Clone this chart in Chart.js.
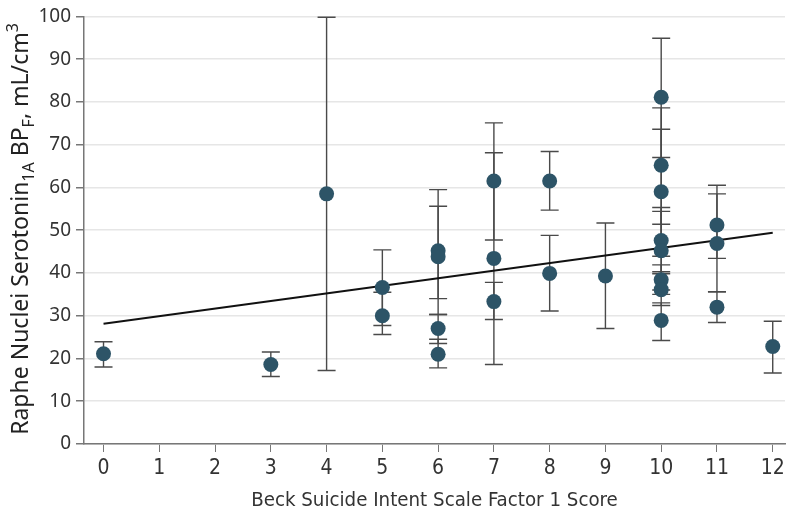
<!DOCTYPE html>
<html>
<head>
<meta charset="utf-8">
<script src="https://cdn.jsdelivr.net/npm/chart.js@4/dist/chart.umd.min.js"></script>
<style>
  html, body { margin: 0; padding: 0; background: #ffffff; }
  #wrap { width: 800px; height: 517px; position: relative; }
</style>
</head>
<body>
<div id="wrap"><canvas id="c" width="800" height="517"></canvas></div>
<script>
// ---- data ----
const scores   = [0, 3, 4, 5, 5, 6, 6, 6, 6, 7, 7, 7, 8, 8, 9, 10, 10, 10, 10, 10, 10, 10, 10, 11, 11, 11, 12];
const bpValues = [21.1, 18.6, 58.5, 36.6, 30.0, 45.2, 43.8, 27.0, 21.0, 61.5, 43.4, 33.3, 61.5, 39.9, 39.3, 81.1, 65.2, 59.0, 47.6, 45.2, 38.4, 36.1, 28.9, 51.2, 46.9, 32.0, 22.8];
const ciLow    = [18.0, 15.8, 17.2, 27.7, 25.6, 30.3, 34.0, 23.5, 17.8, 47.7, 18.6, 29.1, 54.7, 31.1, 27.0, 67.0, 51.4, 43.9, 40.3, 36.0, 35.0, 32.4, 24.2, 43.4, 35.6, 28.4, 16.6];
const ciHigh   = [23.9, 21.5, 99.8, 45.4, 35.5, 59.5, 55.6, 30.3, 24.5, 75.1, 68.1, 37.8, 68.4, 48.8, 51.7, 94.9, 78.6, 73.6, 55.3, 54.4, 41.9, 39.8, 33.0, 60.5, 58.5, 35.6, 28.7];
const trendX   = [0, 12];
const trendY   = [28.1, 49.4];
const xTickValues = [0, 1, 2, 3, 4, 5, 6, 7, 8, 9, 10, 11, 12];
const yTickValues = [0, 10, 20, 30, 40, 50, 60, 70, 80, 90, 100];
const xTitle = 'Beck Suicide Intent Scale Factor 1 Score';
const yTitleParts = [
  { t: 'Raphe Nuclei Serotonin' },
  { t: '1A', sub: true },
  { t: ' BP' },
  { t: 'F', sub: true },
  { t: ', mL/cm' },
  { t: '3', sup: true }
];

const DOT = '#2d5467';
const YFONT = '"Noto Sans", "Open Sans", sans-serif';
const XFONT = '"Liberation Sans Narrow", "DejaVu Sans Condensed", "Liberation Sans", sans-serif';

const errorBars = {
  id: 'errorBars',
  beforeDatasetsDraw(chart) {
    const { ctx, scales: { x, y } } = chart;
    ctx.save();
    ctx.strokeStyle = '#4a4a4a';
    ctx.lineWidth = 1.4;
    for (let i = 0; i < scores.length; i++) {
      const px = x.getPixelForValue(scores[i]);
      const lo = y.getPixelForValue(ciLow[i]);
      const hi = y.getPixelForValue(ciHigh[i]);
      ctx.beginPath();
      ctx.moveTo(px, lo); ctx.lineTo(px, hi);
      ctx.moveTo(px - 9, lo); ctx.lineTo(px + 9, lo);
      ctx.moveTo(px - 9, hi); ctx.lineTo(px + 9, hi);
      ctx.stroke();
    }
    ctx.restore();
  }
};

const yTitlePlugin = {
  id: 'yTitle',
  afterDraw(chart) {
    const { ctx } = chart;
    const main = '23px ' + YFONT;
    const small = '16px ' + YFONT;
    ctx.save();
    let total = 0;
    for (const p of yTitleParts) {
      ctx.font = (p.sub || p.sup) ? small : main;
      total += ctx.measureText(p.t).width;
    }
    ctx.translate(28, 229);
    ctx.rotate(-Math.PI / 2);
    ctx.fillStyle = '#222';
    ctx.textBaseline = 'alphabetic';
    ctx.textAlign = 'left';
    let cx = -total / 2;
    for (const p of yTitleParts) {
      ctx.font = (p.sub || p.sup) ? small : main;
      const dy = p.sub ? 6 : (p.sup ? -10 : 0);
      ctx.fillText(p.t, cx, dy);
      cx += ctx.measureText(p.t).width;
    }
    ctx.restore();
  }
};

new Chart(document.getElementById('c'), {
  type: 'scatter',
  data: {
    datasets: [
      {
        label: 'BPF',
        data: scores.map((s, i) => ({ x: s, y: bpValues[i] })),
        backgroundColor: DOT,
        borderColor: DOT,
        borderWidth: 0,
        pointRadius: 7.5,
        order: 0
      },
      {
        type: 'line',
        label: 'fit',
        data: trendX.map((v, i) => ({ x: v, y: trendY[i] })),
        borderColor: '#111',
        borderWidth: 2,
        pointRadius: 0,
        fill: false,
        order: 1
      }
    ]
  },
  options: {
    responsive: false,
    animation: false,
    devicePixelRatio: 1,
    layout: { padding: { top: 15, right: 15, left: 0, bottom: 0 } },
    plugins: { legend: { display: false }, tooltip: { enabled: false } },
    scales: {
      x: {
        type: 'linear',
        min: -0.35,
        max: 12.22,
        afterBuildTicks(scale) { scale.ticks = xTickValues.map(v => ({ value: v })); },
        afterFit(scale) { scale.height = 73; },
        ticks: {
          font: { family: XFONT, size: 21 },
          color: '#333',
          padding: 4,
          maxRotation: 0,
          autoSkip: false
        },
        grid: { drawOnChartArea: false, drawTicks: true, tickLength: 8, tickColor: '#777', color: '#777' },
        border: { display: true, color: '#777', width: 1.5 },
        title: {
          display: true,
          text: xTitle,
          font: { family: XFONT, size: 20.3 },
          color: '#333',
          padding: { top: 2 }
        }
      },
      y: {
        min: 0,
        max: 100,
        afterBuildTicks(scale) { scale.ticks = yTickValues.map(v => ({ value: v })); },
        afterFit(scale) { scale.width = 84; },
        ticks: {
          font: { family: YFONT, size: 19 },
          color: '#333',
          padding: 5
        },
        grid: { color: '#e6e6e6', lineWidth: 1.5, tickLength: 8, tickColor: '#777', drawTicks: true },
        border: { display: true, color: '#777', width: 1.5 }
      }
    }
  },
  plugins: [errorBars, yTitlePlugin]
});
</script>
</body>
</html>
